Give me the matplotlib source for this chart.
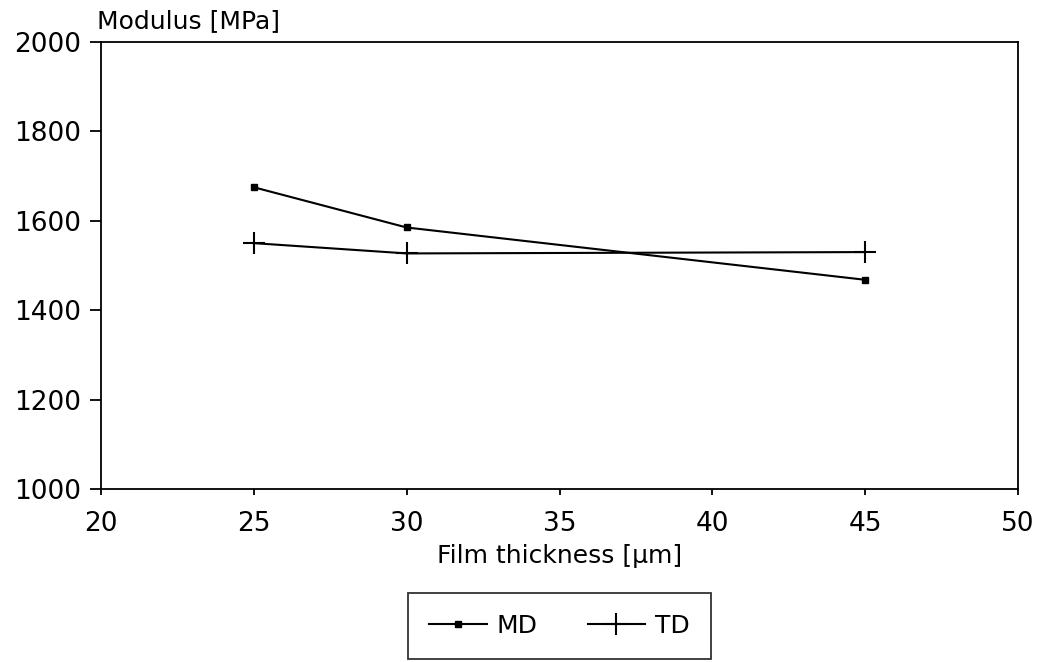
import matplotlib.pyplot as plt

plt.rcParams['font.family'] = ['DejaVu Sans']

# Data
thickness = [25, 30, 45]
md_modulus = [1675, 1585, 1468]
td_modulus = [1550, 1527, 1530]

fig = plt.figure(figsize=(10.41, 6.62), dpi=100)
ax = fig.add_axes([0.097, 0.2613, 0.881, 0.6753])

ax.plot(thickness, md_modulus, color='black', lw=1.5, marker='s', ms=4, label='MD')
ax.plot(thickness, td_modulus, color='black', lw=1.5, marker='+', ms=16, mew=1.5, label='TD')

ax.set_xlim(20, 50)
ax.set_ylim(1000, 2000)
ax.set_xticks(range(20, 51, 5))
ax.set_yticks(range(1000, 2001, 200))

for s in ax.spines.values():
    s.set_linewidth(1.3)

ax.tick_params(axis='y', direction='out', length=8, width=1.3, pad=6, labelsize=19)
ax.tick_params(axis='x', direction='out', length=4, width=1.3, pad=12, labelsize=19)

ax.set_xlabel('Film thickness [\u03bcm]', fontsize=18, labelpad=5)
fig.text(0.093, 0.958, 'Modulus [MPa]', fontsize=18, ha='left', va='baseline')

leg = fig.legend(loc='center', bbox_to_anchor=(0.5375, 0.0544), ncol=2, fontsize=18,
                 frameon=True, fancybox=False, edgecolor='black', borderpad=0.85,
                 handlelength=2.3, columnspacing=2.0, handletextpad=0.4)
leg.get_frame().set_linewidth(1.3)

fig.savefig('out.png', dpi=100)
